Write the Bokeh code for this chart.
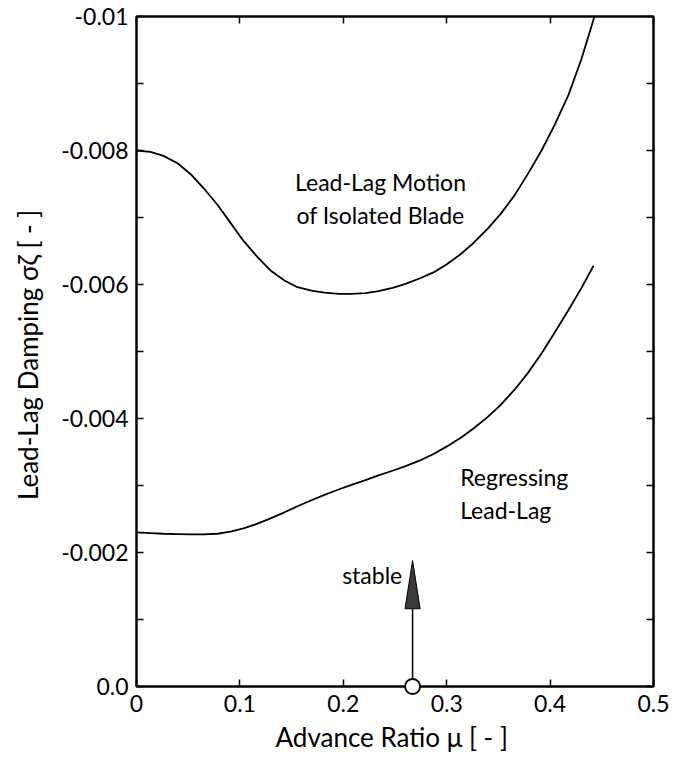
from bokeh.plotting import figure
from bokeh.models import (Range1d, FixedTicker, LinearAxis, CustomJSTickFormatter, Label)
from bokeh.embed import file_html
from bokeh.resources import INLINE

# ---- data ----
blade_mu = [0.000, 0.0135, 0.0261, 0.0397, 0.0522, 0.0648, 0.0783, 0.0909, 0.1035,
            0.1170, 0.1296, 0.1431, 0.1557, 0.1692, 0.1818, 0.1954, 0.2079, 0.2215,
            0.2340, 0.2476, 0.2602, 0.2737, 0.2872, 0.2998, 0.3133, 0.3259, 0.3395,
            0.3520, 0.3656, 0.3781, 0.3917, 0.4043, 0.4178, 0.4304, 0.4429]
blade_sigma = [-0.00800, -0.00798, -0.00792, -0.00781, -0.00765, -0.00744, -0.00719,
               -0.00692, -0.00665, -0.00641, -0.00621, -0.00606, -0.00596, -0.00591,
               -0.00588, -0.00586, -0.00586, -0.00587, -0.00590, -0.00595, -0.00601,
               -0.00609, -0.00618, -0.00630, -0.00645, -0.00662, -0.00683, -0.00705,
               -0.00733, -0.00764, -0.00800, -0.00838, -0.00883, -0.00937, -0.01000]

regr_mu = [0.000, 0.0135, 0.0261, 0.0397, 0.0522, 0.0648, 0.0783, 0.0909, 0.1035,
           0.1170, 0.1296, 0.1431, 0.1557, 0.1692, 0.1818, 0.1954, 0.2079, 0.2215,
           0.2340, 0.2476, 0.2602, 0.2737, 0.2872, 0.2998, 0.3133, 0.3259, 0.3395,
           0.3520, 0.3656, 0.3781, 0.3917, 0.4043, 0.4178, 0.4304, 0.4420]
regr_sigma = [-0.00230, -0.00229, -0.00228, -0.002275, -0.00227, -0.00227, -0.00228,
              -0.00231, -0.00236, -0.00243, -0.00251, -0.00260, -0.00269, -0.00278,
              -0.00286, -0.00294, -0.00301, -0.00308, -0.00315, -0.00322, -0.00329,
              -0.00337, -0.00347, -0.00358, -0.00371, -0.00385, -0.00402, -0.00420,
              -0.00443, -0.00467, -0.00497, -0.00528, -0.00562, -0.00595, -0.00628]

x_ticks = [0.0, 0.1, 0.2, 0.3, 0.4, 0.5]
x_tick_labels = ["0", "0.1", "0.2", "0.3", "0.4", "0.5"]
y_ticks = [0.0, -0.002, -0.004, -0.006, -0.008, -0.01]
y_tick_labels = ["0.0", "-0.002", "-0.004", "-0.006", "-0.008", "-0.01"]
y_minor_ticks = [-0.001, -0.003, -0.005, -0.007, -0.009]

stable_mu = 0.267          # marker on the mu axis
arrow_base = -0.00116      # arrow head base
arrow_tip = -0.00188       # arrow head tip
arrow_half_width = 0.0073  # half width of head (in mu units)

FONT = "Lato"

p = figure(width=685, height=768, output_backend="svg", toolbar_location=None,
           x_range=Range1d(0, 0.5), y_range=Range1d(0, -0.01),
           min_border_left=136, min_border_right=32, min_border_top=16,
           min_border_bottom=82, x_axis_location=None, y_axis_location=None)
p.xgrid.visible = False
p.ygrid.visible = False
p.outline_line_color = "black"
p.outline_line_width = 2
p.background_fill_color = "white"
p.border_fill_color = "white"

code = """
for (let i = 0; i < vals.length; i++) {
  if (Math.abs(tick - vals[i]) < 1e-9) return labs[i];
}
return '';
"""
xfmt = CustomJSTickFormatter(args=dict(vals=x_ticks, labs=x_tick_labels), code=code)
yfmt = CustomJSTickFormatter(args=dict(vals=y_ticks, labs=y_tick_labels), code=code)
blank = CustomJSTickFormatter(code="return '';")

def style(ax, show):
    ax.axis_line_width = 2
    ax.major_tick_in = 7
    ax.major_tick_out = 0
    ax.minor_tick_in = 7
    ax.minor_tick_out = 0
    ax.major_tick_line_width = 1.5
    ax.minor_tick_line_width = 1.5
    if show:
        ax.major_label_text_font = FONT
        ax.major_label_text_font_size = "23px"
        ax.major_label_text_color = "black"
        ax.major_label_standoff = 8
        ax.axis_label_text_font = FONT
        ax.axis_label_text_font_size = "26px"
        ax.axis_label_text_font_style = "normal"
        ax.axis_label_text_color = "black"
    else:
        ax.major_label_text_font_size = "1px"
        ax.major_label_standoff = 0

xt = FixedTicker(ticks=x_ticks, minor_ticks=[])
yt = FixedTicker(ticks=y_ticks, minor_ticks=y_minor_ticks)

xb = LinearAxis(ticker=xt, formatter=xfmt, axis_label="Advance Ratio μ  [ - ]")
style(xb, True)
xb.axis_label_standoff = 6
p.add_layout(xb, "below")

yl = LinearAxis(ticker=yt, formatter=yfmt, axis_label="Lead-Lag Damping σζ  [ - ]")
style(yl, True)
yl.axis_label_standoff = 14
p.add_layout(yl, "left")

xa = LinearAxis(ticker=FixedTicker(ticks=x_ticks, minor_ticks=[]), formatter=blank)
style(xa, False)
p.add_layout(xa, "above")

yr = LinearAxis(ticker=FixedTicker(ticks=y_ticks, minor_ticks=y_minor_ticks), formatter=blank)
style(yr, False)
p.add_layout(yr, "right")

# curves
p.line(blade_mu, blade_sigma, line_color="black", line_width=1.8, line_join="round")
p.line(regr_mu, regr_sigma, line_color="black", line_width=1.8, line_join="round")

# stability arrow
p.line([stable_mu, stable_mu], [0.0, arrow_base], line_color="black", line_width=1.5)
p.patch([stable_mu - arrow_half_width, stable_mu, stable_mu + arrow_half_width],
        [arrow_base, arrow_tip, arrow_base],
        fill_color="#3a3a3a", line_color="black", line_width=1)
circ = p.scatter([stable_mu], [0.0], size=15, marker="circle", fill_color="white",
                 line_color="black", line_width=1.8)
circ.level = "overlay"

def lab(x, y, t, align):
    p.add_layout(Label(x=x, y=y, text=t, text_font=FONT, text_font_size="23px",
                       text_align=align, text_baseline="alphabetic",
                       text_color="black"))

lab(0.236, -0.00753, "Lead-Lag Motion", "center")
lab(0.236, -0.00704, "of Isolated Blade", "center")
lab(0.313, -0.00313, "Regressing", "left")
lab(0.313, -0.00264, "Lead-Lag", "left")
lab(0.257, -0.00167, "stable", "right")

open("out.html", "w").write(file_html(p, INLINE))
